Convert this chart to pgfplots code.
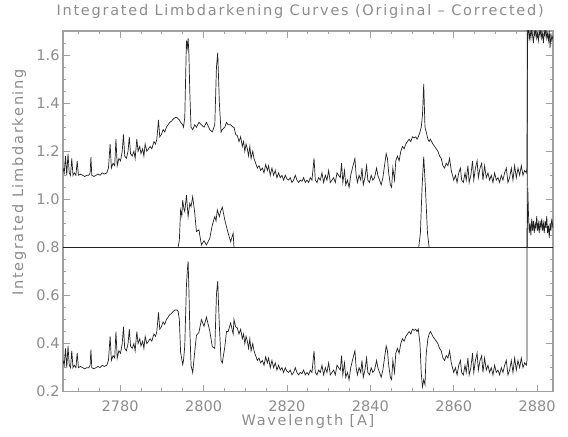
\documentclass[border=0pt]{standalone}
\usepackage{fontspec}
\setmainfont{DejaVu Sans}
\newfontfamily\lblfont[LetterSpace=12]{DejaVu Sans}
\usepackage{pgfplots}
\usepackage{pgfplotstable}
\pgfplotsset{compat=1.18}
\definecolor{axgray}{HTML}{A0A0A0}
\definecolor{txtgray}{HTML}{8C8C8C}
\definecolor{linecol}{HTML}{222222}

\pgfplotstableread{
lam bot top
2766.3 0.33 1.13
2766.6 0.31 1.11
2766.9 0.38 1.18
2767.2 0.30 1.10
2767.5 0.39 1.19
2767.8 0.31 1.11
2768.1 0.30 1.10
2768.4 0.37 1.17
2768.7 0.30 1.10
2769.0 0.31 1.11
2769.4 0.30 1.10
2769.7 0.36 1.16
2770.0 0.30 1.10
2770.5 0.305 1.105
2771.0 0.30 1.10
2771.5 0.295 1.095
2772.0 0.30 1.10
2772.5 0.30 1.10
2772.8 0.31 1.11
2773.0 0.375 1.175
2773.2 0.30 1.10
2773.7 0.295 1.095
2774.2 0.30 1.10
2774.7 0.305 1.105
2775.2 0.30 1.10
2775.7 0.31 1.11
2776.2 0.305 1.105
2776.8 0.31 1.11
2777.2 0.33 1.13
2777.6 0.43 1.23
2777.9 0.33 1.13
2778.3 0.35 1.15
2778.7 0.34 1.14
2779.0 0.45 1.25
2779.3 0.34 1.14
2779.7 0.37 1.17
2780.1 0.36 1.16
2780.5 0.40 1.20
2780.8 0.47 1.27
2781.1 0.38 1.18
2781.5 0.37 1.17
2781.9 0.40 1.20
2782.2 0.46 1.26
2782.5 0.39 1.19
2782.9 0.38 1.18
2783.3 0.40 1.20
2783.6 0.37 1.17
2784.0 0.45 1.25
2784.3 0.40 1.20
2784.7 0.42 1.22
2785.0 0.39 1.19
2785.4 0.41 1.21
2785.7 0.38 1.18
2786.0 0.43 1.23
2786.4 0.40 1.20
2786.8 0.41 1.21
2787.2 0.42 1.22
2787.6 0.41 1.21
2788.1 0.44 1.24
2788.5 0.43 1.23
2788.8 0.45 1.25
2789.2 0.53 1.33
2789.5 0.46 1.26
2789.9 0.47 1.27
2790.3 0.49 1.29
2790.7 0.48 1.28
2791.1 0.50 1.30
2791.5 0.51 1.31
2791.9 0.52 1.32
2792.3 0.525 1.325
2792.8 0.535 1.335
2793.2 0.54 1.34
2793.6 0.54 1.34
2793.9 0.535 1.335
2794.2 0.50 1.33
2794.5 0.364 1.32
2795.0 0.313 1.31
2795.2 0.33 1.30
2795.5 0.39 1.34
2795.9 0.642 1.66
2796.1 0.70 1.63
2796.3 0.742 1.67
2796.5 0.62 1.60
2796.7 0.467 1.45
2797.0 0.31 1.30
2797.4 0.279 1.29
2797.9 0.368 1.31
2798.3 0.434 1.30
2798.9 0.447 1.32
2799.5 0.50 1.31
2800.1 0.472 1.30
2800.7 0.51 1.32
2801.5 0.452 1.29
2802.1 0.387 1.28
2802.7 0.38 1.31
2803.1 0.605 1.55
2803.4 0.66 1.61
2803.8 0.47 1.40
2804.2 0.33 1.28
2804.5 0.32 1.29
2805.1 0.386 1.30
2805.5 0.45 1.32
2805.9 0.45 1.31
2806.5 0.486 1.31
2807.1 0.44 1.30
2807.3 0.50 1.30
2807.7 0.47 1.27
2808.1 0.465 1.265
2808.5 0.44 1.24
2808.9 0.46 1.26
2809.3 0.42 1.22
2809.6 0.44 1.24
2809.9 0.40 1.20
2810.2 0.43 1.23
2810.5 0.41 1.21
2810.8 0.38 1.18
2811.1 0.42 1.22
2811.4 0.37 1.17
2811.8 0.40 1.20
2812.1 0.37 1.17
2812.5 0.35 1.15
2812.9 0.33 1.13
2813.3 0.34 1.14
2813.7 0.32 1.12
2814.1 0.33 1.13
2814.5 0.31 1.11
2814.9 0.345 1.145
2815.3 0.32 1.12
2815.6 0.34 1.14
2816.0 0.30 1.10
2816.4 0.33 1.13
2816.8 0.30 1.10
2817.2 0.32 1.12
2817.6 0.29 1.09
2818.0 0.31 1.11
2818.4 0.29 1.09
2818.8 0.30 1.10
2819.2 0.28 1.08
2819.6 0.30 1.10
2820.0 0.285 1.085
2820.4 0.28 1.08
2820.8 0.29 1.09
2821.2 0.27 1.07
2821.6 0.28 1.08
2822.0 0.30 1.10
2822.4 0.28 1.08
2822.8 0.27 1.07
2823.2 0.28 1.08
2823.6 0.275 1.075
2824.0 0.29 1.09
2824.4 0.27 1.07
2824.8 0.28 1.08
2825.2 0.27 1.07
2825.6 0.29 1.09
2826.0 0.28 1.08
2826.5 0.37 1.17
2826.8 0.28 1.08
2827.2 0.27 1.07
2827.6 0.29 1.09
2828.0 0.28 1.08
2828.4 0.31 1.11
2828.8 0.27 1.07
2829.2 0.30 1.10
2829.6 0.28 1.08
2830.0 0.32 1.12
2830.4 0.27 1.07
2830.8 0.28 1.08
2831.2 0.29 1.09
2831.6 0.27 1.07
2832.0 0.31 1.11
2832.4 0.30 1.10
2832.8 0.29 1.09
2833.1 0.35 1.15
2833.4 0.27 1.07
2833.8 0.32 1.12
2834.1 0.26 1.06
2834.5 0.28 1.08
2834.9 0.25 1.05
2835.3 0.30 1.10
2835.7 0.33 1.13
2836.0 0.35 1.15
2836.3 0.37 1.17
2836.6 0.30 1.10
2836.9 0.27 1.07
2837.3 0.30 1.10
2837.7 0.28 1.08
2838.0 0.33 1.13
2838.3 0.26 1.06
2838.7 0.29 1.09
2839.1 0.34 1.14
2839.4 0.28 1.08
2839.8 0.27 1.07
2840.2 0.30 1.10
2840.6 0.28 1.08
2841.0 0.29 1.09
2841.5 0.33 1.13
2841.8 0.30 1.10
2842.2 0.28 1.08
2842.6 0.26 1.06
2843.0 0.29 1.09
2843.4 0.34 1.14
2843.8 0.39 1.19
2844.1 0.37 1.17
2844.4 0.31 1.11
2844.8 0.26 1.06
2845.1 0.25 1.05
2845.4 0.33 1.13
2845.8 0.28 1.08
2846.1 0.36 1.16
2846.5 0.38 1.18
2846.9 0.36 1.16
2847.3 0.40 1.20
2847.7 0.42 1.22
2848.1 0.41 1.21
2848.5 0.43 1.23
2848.9 0.44 1.24
2849.3 0.45 1.25
2849.7 0.44 1.24
2850.1 0.46 1.26
2850.5 0.455 1.255
2850.9 0.46 1.26
2851.2 0.45 1.25
2851.5 0.46 1.26
2851.9 0.40 1.28
2852.2 0.28 1.30
2852.5 0.22 1.35
2852.8 0.25 1.48
2853.1 0.23 1.30
2853.4 0.36 1.28
2853.8 0.42 1.25
2854.1 0.44 1.24
2854.4 0.45 1.25
2854.7 0.44 1.24
2855.0 0.43 1.23
2855.4 0.42 1.22
2855.8 0.41 1.21
2856.2 0.40 1.20
2856.6 0.38 1.18
2857.0 0.37 1.17
2857.4 0.34 1.14
2857.8 0.33 1.13
2858.2 0.35 1.15
2858.6 0.34 1.14
2859.0 0.37 1.17
2859.4 0.32 1.12
2859.7 0.30 1.10
2860.0 0.28 1.08
2860.4 0.30 1.10
2860.8 0.27 1.07
2861.2 0.31 1.11
2861.6 0.33 1.13
2861.9 0.28 1.08
2862.3 0.27 1.07
2862.7 0.31 1.11
2863.0 0.28 1.08
2863.4 0.34 1.14
2863.7 0.27 1.07
2864.1 0.30 1.10
2864.5 0.36 1.16
2864.8 0.28 1.08
2865.2 0.33 1.13
2865.6 0.36 1.16
2865.9 0.29 1.09
2866.3 0.33 1.13
2866.7 0.35 1.15
2867.0 0.28 1.08
2867.4 0.34 1.14
2867.8 0.29 1.09
2868.2 0.31 1.11
2868.6 0.28 1.08
2869.0 0.30 1.10
2869.4 0.27 1.07
2869.8 0.31 1.11
2870.2 0.28 1.08
2870.6 0.29 1.09
2871.0 0.27 1.07
2871.4 0.30 1.10
2871.8 0.28 1.08
2872.2 0.31 1.11
2872.6 0.33 1.13
2873.0 0.27 1.07
2873.4 0.29 1.09
2873.8 0.33 1.13
2874.2 0.28 1.08
2874.6 0.34 1.14
2875.0 0.29 1.09
2875.4 0.33 1.13
2875.8 0.30 1.10
2876.2 0.34 1.14
2876.6 0.30 1.10
2877.0 0.32 1.12
2877.4 0.31 1.11
2877.55 0.33 1.13
2877.7 2.5 1.69
2877.9 2.5 1.71
2878.1 2.5 1.66
2878.3 2.5 1.70
2878.5 2.5 1.67
2878.7 2.5 1.71
2878.9 2.5 1.68
2879.1 2.5 1.65
2879.3 2.5 1.70
2879.5 2.5 1.68
2879.7 2.5 1.71
2879.9 2.5 1.67
2880.1 2.5 1.69
2880.3 2.5 1.66
2880.5 2.5 1.70
2880.7 2.5 1.68
2880.9 2.5 1.71
2881.1 2.5 1.67
2881.3 2.5 1.69
2881.5 2.5 1.65
2881.7 2.5 1.70
2881.9 2.5 1.68
2882.1 2.5 1.71
2882.3 2.5 1.67
2882.5 2.5 1.69
2882.7 2.5 1.66
2882.9 2.5 1.70
2883.1 2.5 1.63
2883.3 2.5 1.69
2883.5 2.5 1.66
2883.8 2.5 1.68
}\maindata

\pgfplotstableread{
lam mid
2766.3 0.80
2793.9 0.80
2794.2 0.83
2794.5 0.956
2794.8 0.93
2795.0 0.997
2795.3 0.96
2795.5 0.949
2795.9 1.018
2796.3 0.928
2796.7 0.983
2797.0 0.97
2797.4 1.011
2797.9 0.942
2798.3 0.866
2798.9 0.873
2799.2 0.84
2799.5 0.81
2800.1 0.828
2800.7 0.81
2801.5 0.838
2802.1 0.893
2802.7 0.928
2803.0 0.91
2803.3 0.956
2803.8 0.928
2804.1 0.95
2804.5 0.967
2805.1 0.914
2805.9 0.859
2806.5 0.824
2807.1 0.859
2807.3 0.80
2851.6 0.80
2852.0 0.86
2852.4 1.05
2852.8 1.177
2853.2 1.05
2853.7 0.86
2854.1 0.80
2877.6 0.80
2877.75 1.05
2877.9 0.95
2878.1 0.86
2878.3 0.90
2878.5 0.85
2878.7 0.92
2878.9 0.87
2879.1 0.91
2879.3 0.86
2879.5 0.90
2879.7 0.88
2879.9 0.93
2880.1 0.87
2880.3 0.90
2880.5 0.86
2880.7 0.91
2880.9 0.88
2881.1 0.92
2881.3 0.87
2881.5 0.90
2881.7 0.86
2881.9 0.91
2882.1 0.88
2882.3 0.93
2882.5 0.86
2882.7 0.89
2882.9 0.84
2883.1 0.90
2883.3 0.87
2883.5 0.92
2883.8 0.88
}\middata

\begin{document}
\begin{tikzpicture}
\path[use as bounding box] (-63bp,-45.3bp) rectangle (505bp,391.7bp);
\begin{axis}[
  at={(0,0)}, anchor=south west,
  scale only axis, width=490bp, height=360.7bp,
  xmin=2766.3, xmax=2883.8, ymin=0.2, ymax=1.7,
  xtick={2780,2800,2820,2840,2860,2880},
  minor xtick={2770,2775,2785,2790,2795,2805,2810,2815,2825,2830,2835,2845,2850,2855,2865,2870,2875},
  ytick={0.2,0.4,0.6,0.8,1.0,1.2,1.4,1.6},
  minor ytick={0.25,0.3,0.35,0.45,0.5,0.55,0.65,0.7,0.75,0.85,0.9,0.95,1.05,1.1,1.15,1.25,1.3,1.35,1.45,1.5,1.55,1.65},
  tick align=inside,
  major tick length=7bp, minor tick length=3.5bp,
  axis line style={draw=axgray, line width=1.2bp},
  every tick/.style={draw=axgray, line width=0.8bp},
  tick label style={font=\fontsize{14.5bp}{17bp}\selectfont, text=txtgray},
  xticklabel style={yshift=-6bp},
  /pgf/number format/assume math mode=true,
  xticklabel={\pgfmathprintnumber[1000 sep={}, fixed, precision=0]{\tick}},
  yticklabel={\pgfmathprintnumber[fixed, fixed zerofill, precision=1]{\tick}},
  xlabel={Wavelength [A]},
  xlabel style={at={(axis description cs:0.5,0)}, anchor=base, yshift=-34bp,
    font=\lblfont\fontsize{14.5bp}{17bp}\selectfont, text=txtgray},
  ylabel={Integrated Limbdarkening},
  ylabel style={at={(axis description cs:-0.0816,0.58)}, anchor=base, rotate=0,
    font=\lblfont\fontsize{14.5bp}{17bp}\selectfont, text=txtgray},
  title={Integrated Limbdarkening Curves (Original \textendash{} Corrected)},
  title style={at={(axis description cs:0.484,1)}, anchor=base, yshift=10bp,
    font=\lblfont\fontsize{14.5bp}{17bp}\selectfont, text=txtgray},
]
\addplot[linecol, line width=0.7bp] table[x=lam, y=bot]{\maindata};
\addplot[linecol, line width=0.7bp] table[x=lam, y=top]{\maindata};
\addplot[linecol, line width=0.7bp] table[x=lam, y=mid]{\middata};
\addplot[linecol, line width=0.6bp] coordinates {(2766.3,0.8) (2883.8,0.8)};
\end{axis}
\end{tikzpicture}
\end{document}
